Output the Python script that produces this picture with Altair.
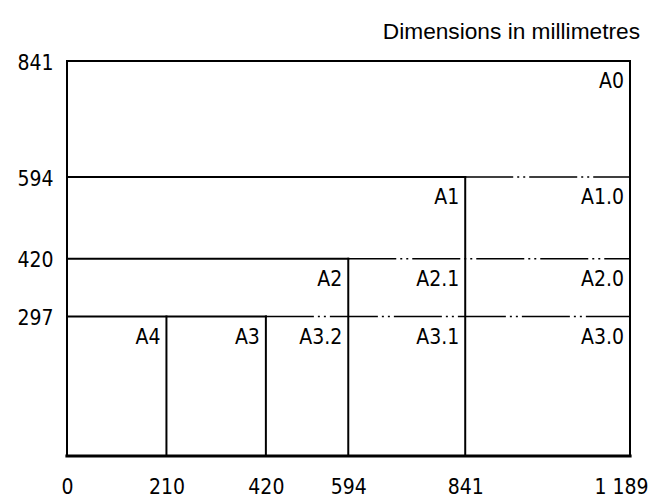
import altair as alt
import pandas as pd

# ---- data -------------------------------------------------------------
x_ticks = [0, 210, 420, 594, 841, 1189]
x_tick_labels = ["0", "210", "420", "594", "841", "1 189"]
y_ticks = [297, 420, 594, 841]

# solid horizontal lines: y, from x1 to x2
h_y = [841, 594, 420, 297]
h_x1 = [0, 0, 0, 0]
h_x2 = [1189, 841, 594, 420]

# solid vertical lines: x, from y1 to y2
v_x = [0, 1189, 841, 594, 420, 210]
v_y1 = [0, 0, 0, 0, 0, 0]
v_y2 = [841, 841, 594, 420, 297, 297]

# base line
b_y = [0]
b_x1 = [0]
b_x2 = [1189]

# dash-dot-dot (cut) lines
d_y = [594, 420, 297]
d_x1 = [841, 594, 420]
d_x2 = [1189, 1189, 1189]

# sheet names at the top-right corner of each sheet
names = ["A0", "A1", "A1.0", "A2", "A2.1", "A2.0", "A4", "A3", "A3.2", "A3.1", "A3.0"]
name_x = [1189, 841, 1189, 594, 841, 1189, 210, 420, 594, 841, 1189]
name_y = [841, 594, 594, 420, 420, 420, 297, 297, 297, 297, 297]

# ---- tables -----------------------------------------------------------
hdf = pd.DataFrame({"y": h_y, "x1": h_x1, "x2": h_x2})
vdf = pd.DataFrame({"x": v_x, "y1": v_y1, "y2": v_y2})
bdf = pd.DataFrame({"y": b_y, "x1": b_x1, "x2": b_x2})
ddf = pd.DataFrame({"y": d_y, "x1": d_x1, "x2": d_x2})
ndf = pd.DataFrame({"name": names, "x": name_x, "y": name_y})

FONT = "DejaVu Sans Condensed, Liberation Sans Narrow, DejaVu Sans"

label_expr = "datum.label"
for v, l in zip(x_ticks, x_tick_labels):
    if str(v) != l:
        label_expr = f"datum.value == {v} ? '{l}' : " + label_expr

last_test = f"datum.value == {x_ticks[-1]}"

xs = alt.Scale(domain=[0, 1189], nice=False, zero=True)
ys = alt.Scale(domain=[0, 841], nice=False, zero=True)

x_axis = alt.Axis(values=x_ticks, labelExpr=label_expr, title=None, grid=False,
                  domain=False, ticks=False, tickSize=0, labelPadding=20,
                  labelFont=FONT, labelFontSize=21, labelColor="black",
                  labelFlush=False, labelOverlap=False,
                  labelAlign={"condition": {"test": last_test, "value": "right"},
                              "value": "center"},
                  labelOffset={"condition": {"test": last_test, "value": 18},
                               "value": 0})
y_axis = alt.Axis(values=y_ticks, title=None, grid=False, domain=False,
                  ticks=False, tickSize=0, labelPadding=14, labelOffset=2,
                  labelFont=FONT, labelFontSize=21, labelColor="black",
                  labelFlush=False, labelOverlap=False)

horiz = alt.Chart(hdf).mark_rule(color="black", strokeWidth=2, strokeCap="square").encode(
    x=alt.X("x1:Q", scale=xs, axis=x_axis),
    x2="x2:Q",
    y=alt.Y("y:Q", scale=ys, axis=y_axis),
)
vert = alt.Chart(vdf).mark_rule(color="black", strokeWidth=2, strokeCap="square").encode(
    x=alt.X("x:Q", scale=xs, axis=x_axis),
    y=alt.Y("y1:Q", scale=ys, axis=y_axis),
    y2="y2:Q",
)
base = alt.Chart(bdf).mark_rule(color="black", strokeWidth=3.2, strokeCap="square").encode(
    x=alt.X("x1:Q", scale=xs, axis=x_axis),
    x2="x2:Q",
    y=alt.Y("y:Q", scale=ys, axis=y_axis),
)
cut = alt.Chart(ddf).mark_rule(color="black", strokeWidth=1.3,
                               strokeDash=[48, 4, 2, 4, 2, 4]).encode(
    x=alt.X("x1:Q", scale=xs, axis=x_axis),
    x2="x2:Q",
    y=alt.Y("y:Q", scale=ys, axis=y_axis),
)
text = alt.Chart(ndf).mark_text(align="right", baseline="alphabetic", dx=-6, dy=27,
                                font=FONT, fontSize=21, color="black").encode(
    x=alt.X("x:Q", scale=xs, axis=x_axis),
    y=alt.Y("y:Q", scale=ys, axis=y_axis),
    text="name:N",
)

chart = alt.layer(cut, horiz, vert, base, text).properties(
    width=563,
    height=395,
    title=alt.TitleParams("Dimensions in millimetres", anchor="end", orient="top",
                          frame="group",
                          font="Liberation Sans",
                          fontSize=22.7, fontWeight="normal", color="black",
                          baseline="alphabetic", offset=-10, dx=10),
    autosize=alt.AutoSizeParams(type="none"),
    padding={"left": 59, "top": 53, "right": 18, "bottom": 43},
).configure_view(stroke=None).configure(background="white")

chart.save("out.html", embed_options={"renderer": "svg", "actions": False})
